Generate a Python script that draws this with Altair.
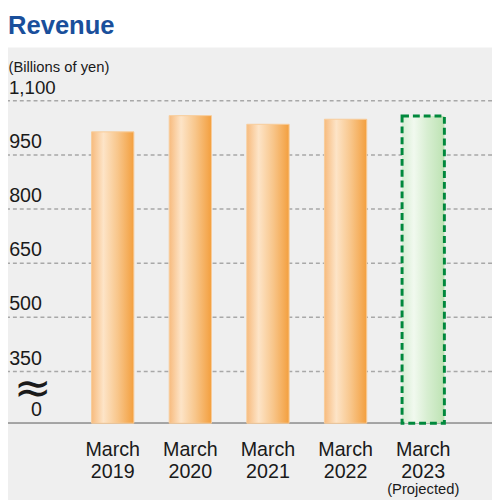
import altair as alt
import pandas as pd

# ---- data ----
categories = ["March 2019", "March 2020", "March 2021", "March 2022", "March 2023"]
revenue = [1014, 1059, 1035, 1049, 1058]          # billions of yen
projected = [False, False, False, False, True]
grid_values = [350, 500, 650, 800, 950, 1100]

BASE = 206.3        # value drawn at the (broken) zero line
BREAK = 243.1       # where the "≈" break sign sits
Y_MIN, Y_MAX = -6.4, 1248
PROJ_LABEL_Y = 23.6

df = pd.DataFrame({"cat": categories, "revenue": revenue, "projected": projected})
grid_df = pd.DataFrame({"v": grid_values})
proj_df = df[df["projected"]].copy()
proj_df["note"] = "(Projected)"

FONT = "Liberation Sans"
IS_BREAK = "datum.value > 220 && datum.value < 300"
IS_TOP = "datum.value > 1050"

yscale = alt.Scale(domain=[Y_MIN, Y_MAX], zero=False, nice=False)
xscale = alt.Scale(domain=categories, paddingInner=0.455, paddingOuter=0.845, align=0.637)

x_enc = alt.X(
    "cat:N", scale=xscale, sort=categories, title=None,
    axis=alt.Axis(
        orient="bottom", domain=False, ticks=False, tickSize=0, grid=False,
        labelExpr="split(datum.label, ' ')", labelAngle=0,
        labelFont=FONT, labelFontSize=20, labelColor="#1a1a1a",
        labelLineHeight=22, labelBaseline="top", labelPadding=-61,
        labelOverlap=False,
    ),
)

y_axis = alt.Axis(
    values=[BASE, BREAK] + grid_values,
    labelExpr="datum.value < 220 ? '0' : datum.value < 300 ? '≈' : format(datum.value, ',')",
    labelFontSize={"condition": [
        {"test": IS_BREAK, "value": 46},
        {"test": IS_TOP, "value": 19},
    ], "value": 20},
    labelFont={"condition": [{"test": IS_BREAK, "value": "DejaVu Sans"}], "value": FONT},
    labelPadding={"condition": [
        {"test": IS_BREAK, "value": -44},
        {"test": IS_TOP, "value": -48},
    ], "value": -34},
    labelColor="#1a1a1a", labelAlign="right",
    labelBaseline="alphabetic", labelOffset=-7.5,
    labelOverlap=False, labelFlush=False,
    domain=False, ticks=False, tickSize=0, grid=False,
    title="(Billions of yen)", titleAngle=0, titleAlign="left", titleBaseline="middle",
    titleX=0, titleY=19, titleFont=FONT, titleFontSize=15, titleFontWeight="normal",
    titleColor="#1a1a1a",
)

grid = alt.Chart(grid_df).mark_rule(color="#a8a8a8", strokeDash=[4, 3], strokeWidth=1.5).encode(
    y=alt.Y("v:Q", scale=yscale, axis=y_axis)
)

baseline = alt.Chart(df).mark_rule(color="#a3a3a3", strokeWidth=1.5).encode(
    y=alt.datum(BASE)
)

orange = alt.Gradient(
    gradient="linear", x1=0, x2=1, y1=0, y2=0,
    stops=[
        alt.GradientStop(color="#f7bb7e", offset=0),
        alt.GradientStop(color="#fde4c7", offset=0.28),
        alt.GradientStop(color="#f8c68b", offset=0.62),
        alt.GradientStop(color="#f39f3e", offset=1),
    ],
)
green = alt.Gradient(
    gradient="linear", x1=0, x2=1, y1=0, y2=0,
    stops=[
        alt.GradientStop(color="#d8eed3", offset=0),
        alt.GradientStop(color="#f1f9ef", offset=0.28),
        alt.GradientStop(color="#d7eed1", offset=0.6),
        alt.GradientStop(color="#bde3b3", offset=1),
    ],
)

actual_bars = alt.Chart(df).transform_filter("!datum.projected").mark_bar(
    fill=orange, stroke="#f8cc9a", strokeWidth=1
).encode(
    x=x_enc,
    y=alt.Y("revenue:Q", scale=yscale),
    y2=alt.datum(BASE),
)

proj_bars = alt.Chart(df).transform_filter("datum.projected").mark_bar(
    fill=green, stroke="#00883c", strokeWidth=3, strokeDash=[7, 4]
).encode(
    x=alt.X("cat:N", scale=xscale, sort=categories),
    y=alt.Y("revenue:Q", scale=yscale),
    y2=alt.datum(BASE),
)

proj_note = alt.Chart(proj_df).mark_text(
    font=FONT, fontSize=15, color="#1a1a1a", baseline="middle", align="center"
).encode(
    x=alt.X("cat:N", scale=xscale, sort=categories),
    y=alt.datum(PROJ_LABEL_Y),
    text="note:N",
)

chart = alt.layer(grid, baseline, actual_bars, proj_bars, proj_note).properties(
    width=492, height=460,
    autosize=alt.AutoSizeParams(type="none"),
    padding={"left": 0, "top": 36, "right": 0, "bottom": 0},
    title=alt.Title(
        "Revenue", anchor="start", frame="group", font=FONT, fontSize=26, fontWeight="bold",
        color="#1a4f9b", offset=12, baseline="alphabetic", dy=24,
    ),
).configure(background="white").configure_view(fill="#efefef", strokeWidth=0)

chart.save("out.html", embed_options={"renderer": "svg", "actions": False})
